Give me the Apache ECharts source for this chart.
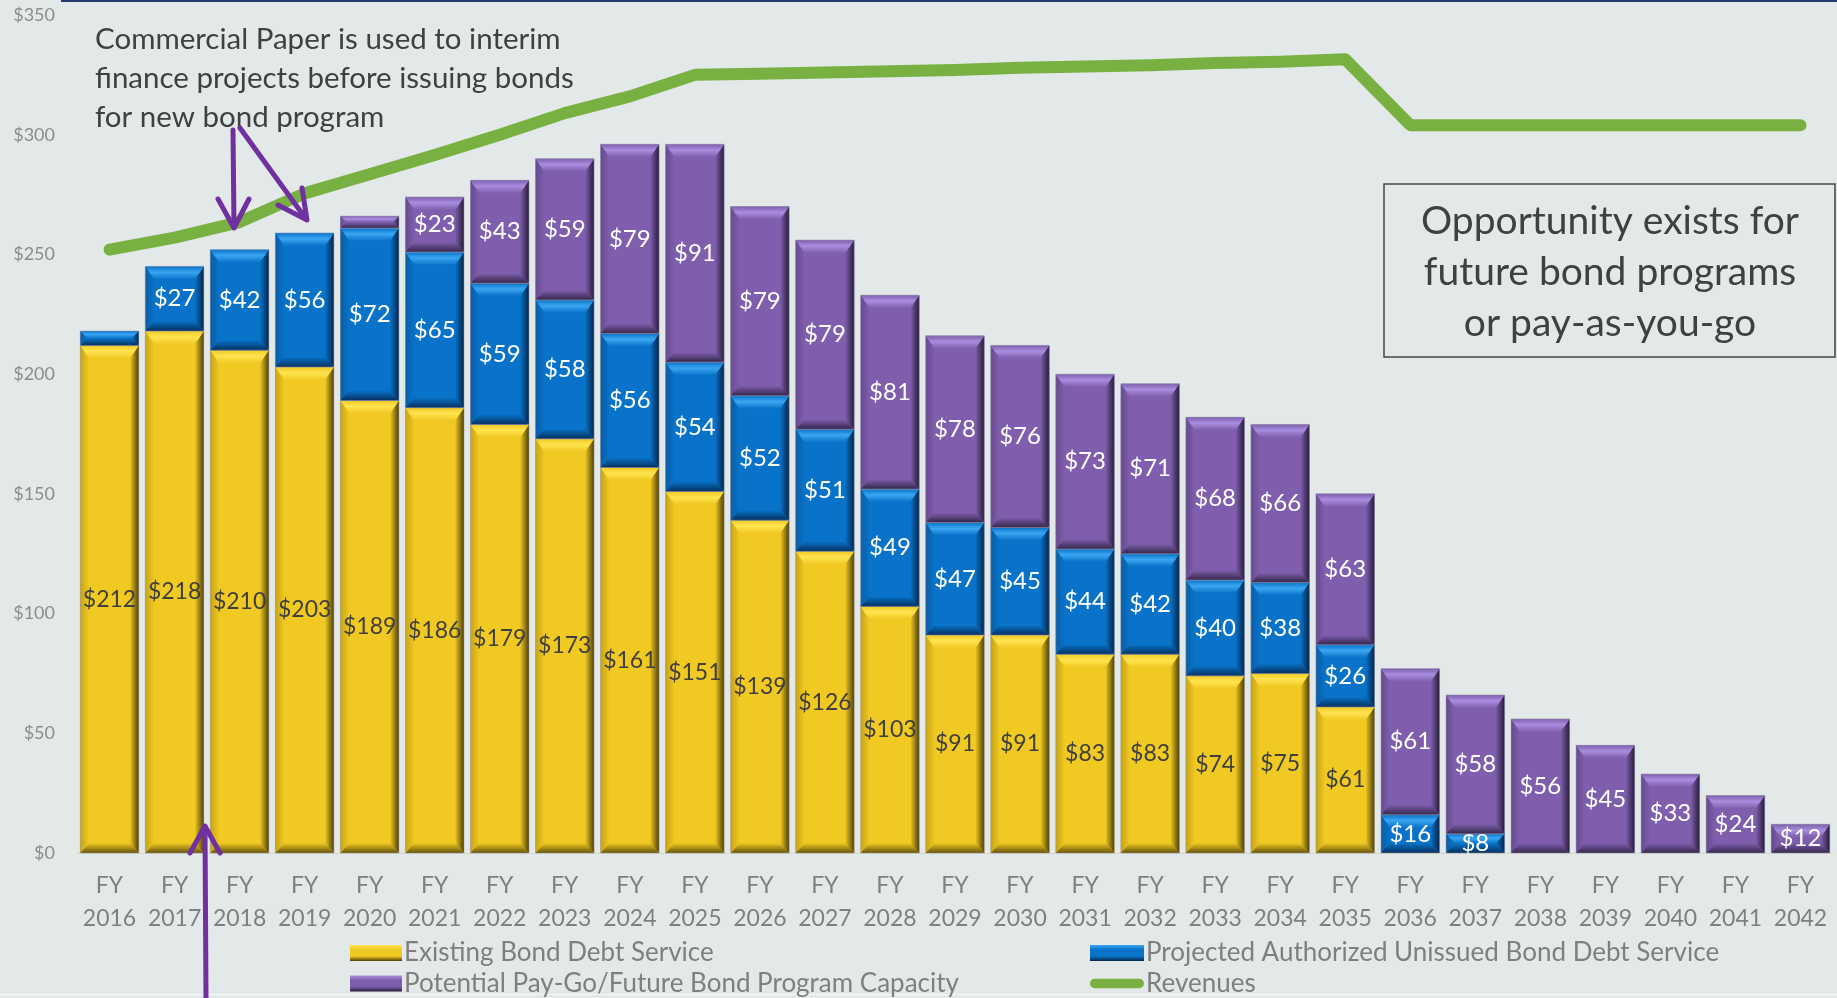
<!DOCTYPE html>
<html>
<head>
<meta charset="utf-8">
<title>Bond Debt Service vs Revenues</title>
<script src="https://cdn.jsdelivr.net/npm/echarts@6/dist/echarts.min.js"></script>
<style>
  html, body { margin: 0; padding: 0; background: #e3e9e9; }
  #chart { width: 1837px; height: 998px; }
</style>
</head>
<body>
<div id="chart"></div>
<script>
// fiscal years
var years = ['2016', '2017', '2018', '2019', '2020', '2021', '2022', '2023', '2024', '2025',
  '2026', '2027', '2028', '2029', '2030', '2031', '2032', '2033', '2034', '2035',
  '2036', '2037', '2038', '2039', '2040', '2041', '2042']

// $ millions
var existing = [212, 218, 210, 203, 189, 186, 179, 173, 161, 151, 139, 126, 103, 91, 91, 83, 83, 74, 75, 61,
  0, 0, 0, 0, 0, 0, 0]
var projected = [6, 27, 42, 56, 72, 65, 59, 58, 56, 54, 52, 51, 49, 47, 45, 44, 42, 40, 38, 26,
  16, 8, 0, 0, 0, 0, 0]
var potential = [0, 0, 0, 0, 5, 23, 43, 59, 79, 91, 79, 79, 81, 78, 76, 73, 71, 68, 66, 63,
  61, 58, 56, 45, 33, 24, 12]
var revenues = [252, 257, 263.5, 275.5, 283.5, 291.5, 300, 309, 316, 325, 325.5, 326, 326.5, 327, 328,
  328.5, 329, 330, 330.5, 331.5, 304, 304, 304, 304, 304, 304, 304]

var yTicks = [0, 50, 100, 150, 200, 250, 300, 350]

var FONT = 'Lato, "Open Sans", sans-serif'

// bevel colours: face / top light / side dark / left shade / label
var yellow = { face: '#f0c922', light: '#ffe450', dark: '#4e3f06', left: '#c7a314', label: '#3f3f3f' }
var blue = { face: '#0873c9', light: '#3aa6f2', dark: '#05244a', left: '#0a5da3', label: '#ffffff' }
var purple = { face: '#7f5fad', light: '#a98ddf', dark: '#271c3b', left: '#67498f', label: '#ffffff' }

function lin (x2, y2, stops) {
  return { type: 'linear', x: 0, y: 0, x2: x2, y2: y2, colorStops: stops }
}

// build [index, value, base] rows for a stacked segment
function rows (values, bases) {
  return values.map(function (v, i) {
    var b = 0
    bases.forEach(function (arr) { b += arr[i] })
    return [i, v, b]
  })
}

function bevelBar (c) {
  return function (params, api) {
    var idx = api.value(0)
    var val = api.value(1)
    var base = api.value(2)
    if (!val) return
    var p0 = api.coord([idx, base])
    var p1 = api.coord([idx, base + val])
    var w = api.size([1, 0])[0] * 0.9
    var x = p0[0] - w / 2
    var y = p1[1]
    var h = p0[1] - p1[1]
    var bt = Math.min(13, h / 2)
    var bs = Math.min(9, h / 2)
    var bb = Math.min(10, h / 2)
    var children = [
      { type: 'rect', shape: { x: x, y: y, width: w, height: h }, style: { fill: c.face } },
      { // left
        type: 'polygon',
        shape: { points: [[x, y], [x + bs, y + bt], [x + bs, y + h - bb], [x, y + h]] },
        style: { fill: lin(1, 0, [{ offset: 0, color: c.left }, { offset: 1, color: c.face }]) }
      },
      { // right
        type: 'polygon',
        shape: { points: [[x + w, y], [x + w - bs, y + bt], [x + w - bs, y + h - bb], [x + w, y + h]] },
        style: { fill: lin(1, 0, [{ offset: 0, color: c.face }, { offset: 1, color: c.dark }]) }
      },
      { // bottom
        type: 'polygon',
        shape: { points: [[x, y + h], [x + w, y + h], [x + w - bs, y + h - bb], [x + bs, y + h - bb]] },
        style: { fill: lin(0, 1, [{ offset: 0, color: c.face }, { offset: 1, color: c.dark }]), opacity: 0.85 }
      },
      { // top
        type: 'polygon',
        shape: { points: [[x, y], [x + w, y], [x + w - bs, y + bt], [x + bs, y + bt]] },
        style: { fill: lin(0, 1, [{ offset: 0, color: c.face }, { offset: 0.45, color: c.light }, { offset: 1, color: c.face }]) }
      },
      {
        type: 'rect',
        shape: { x: x, y: y, width: w, height: h },
        style: { fill: null, stroke: 'rgba(150,150,170,0.55)', lineWidth: 1 }
      }
    ]
    if (val >= 7) {
      children.push({
        type: 'text',
        x: p0[0],
        y: (p0[1] + p1[1]) / 2,
        style: {
          text: '$' + val,
          fill: c.label,
          fontSize: c === yellow ? 23 : 24,
          fontFamily: FONT,
          align: 'center',
          verticalAlign: 'middle'
        }
      })
    }
    return { type: 'group', children: children }
  }
}

function legendIcon (c) {
  return lin(0, 1, [
    { offset: 0, color: c.light },
    { offset: 0.3, color: c.face },
    { offset: 0.7, color: c.face },
    { offset: 1, color: c.dark }
  ])
}

var purpleArrow = { stroke: '#7030a0', lineWidth: 5, lineCap: 'round', lineJoin: 'round', fill: null }

var legendText = { color: '#7f7f7f', fontSize: 26, lineHeight: 28, fontFamily: FONT, padding: [0, 0, 0, -3] }

var chart = echarts.init(document.getElementById('chart'))

chart.setOption({
  backgroundColor: '#e3e9e9',
  animation: false,
  grid: { left: 77, right: 4, top: 15, bottom: 145, containLabel: false },
  xAxis: {
    type: 'category',
    data: years,
    axisLine: { show: true, lineStyle: { color: '#d9d6c4', width: 1 } },
    axisTick: { show: false },
    axisLabel: {
      interval: 0,
      margin: 16,
      color: '#7f7f7f',
      fontSize: 23,
      lineHeight: 33,
      fontFamily: FONT,
      formatter: function (v) { return 'FY\n' + v }
    }
  },
  yAxis: {
    type: 'value',
    min: yTicks[0],
    max: yTicks[yTicks.length - 1],
    interval: 50,
    axisLine: { show: false },
    axisTick: { show: false },
    splitLine: { show: false },
    axisLabel: {
      margin: 22,
      color: '#8c8c8c',
      fontSize: 18,
      fontFamily: FONT,
      formatter: '${value}'
    }
  },
  legend: [
    {
      orient: 'vertical',
      left: 350,
      top: 939,
      padding: 0,
      itemWidth: 52,
      itemHeight: 16,
      itemGap: 2.5,
      textStyle: legendText,
      data: [
        { name: 'Existing Bond Debt Service', icon: 'rect', itemStyle: { color: legendIcon(yellow) } },
        { name: 'Potential Pay-Go/Future Bond Program Capacity', icon: 'rect', itemStyle: { color: legendIcon(purple) } }
      ]
    },
    {
      orient: 'vertical',
      left: 1090,
      top: 939,
      padding: 0,
      itemWidth: 54,
      itemHeight: 16,
      itemGap: 2.5,
      textStyle: legendText,
      data: [
        { name: 'Projected Authorized Unissued Bond Debt Service', icon: 'rect', itemStyle: { color: legendIcon(blue) } },
        { name: 'Revenues', icon: 'path://M5,0 L57,0 A5,5 0 0 1 57,11 L5,11 A5,5 0 0 1 5,0 Z', itemStyle: { color: '#79b042' } }
      ]
    }
  ],
  series: [
    {
      name: 'Existing Bond Debt Service',
      type: 'custom',
      renderItem: bevelBar(yellow),
      itemStyle: { color: yellow.face },
      encode: { x: 0, y: 1 },
      data: rows(existing, [])
    },
    {
      name: 'Projected Authorized Unissued Bond Debt Service',
      type: 'custom',
      renderItem: bevelBar(blue),
      itemStyle: { color: blue.face },
      encode: { x: 0, y: 1 },
      data: rows(projected, [existing])
    },
    {
      name: 'Potential Pay-Go/Future Bond Program Capacity',
      type: 'custom',
      renderItem: bevelBar(purple),
      itemStyle: { color: purple.face },
      encode: { x: 0, y: 1 },
      data: rows(potential, [existing, projected])
    },
    {
      name: 'Revenues',
      type: 'line',
      data: revenues,
      symbol: 'none',
      z: 5,
      itemStyle: { color: '#79b042' },
      lineStyle: { color: '#79b042', width: 12, cap: 'round', join: 'round' }
    }
  ],
  graphic: [
    { type: 'rect', shape: { x: 61, y: 0, width: 1776, height: 2 }, style: { fill: '#1f3b6e' }, silent: true },
    { type: 'rect', shape: { x: 0, y: 994, width: 1837, height: 1 }, style: { fill: 'rgba(255,255,255,0.7)' }, silent: true },
    {
      type: 'text',
      x: 95,
      y: 20,
      style: {
        text: 'Commercial Paper is used to interim\nfinance projects before issuing bonds\nfor new bond program',
        fill: '#404040',
        fontSize: 29.5,
        lineHeight: 39,
        fontFamily: FONT,
        align: 'left',
        verticalAlign: 'top'
      }
    },
    {
      type: 'rect',
      shape: { x: 1384, y: 184, width: 451, height: 173 },
      style: { fill: null, stroke: '#454545', lineWidth: 1.5 }
    },
    {
      type: 'text',
      x: 1610,
      y: 272,
      style: {
        text: 'Opportunity exists for\nfuture bond programs\nor pay-as-you-go',
        fill: '#404040',
        fontSize: 39,
        lineHeight: 51,
        fontFamily: FONT,
        align: 'center',
        verticalAlign: 'middle'
      }
    },
    // arrows
    { type: 'polyline', shape: { points: [[233, 130], [234, 227]] }, style: purpleArrow, z: 100 },
    { type: 'polyline', shape: { points: [[218, 199], [234, 228], [249, 199]] }, style: purpleArrow, z: 100 },
    { type: 'polyline', shape: { points: [[240, 128], [306, 219]] }, style: purpleArrow, z: 100 },
    { type: 'polyline', shape: { points: [[278, 205], [307, 220], [302, 188]] }, style: purpleArrow, z: 100 },
    { type: 'polyline', shape: { points: [[206, 998], [205, 828]] }, style: purpleArrow, z: 100 },
    { type: 'polyline', shape: { points: [[190, 853], [205, 826], [220, 853]] }, style: purpleArrow, z: 100 }
  ]
})
</script>
</body>
</html>
